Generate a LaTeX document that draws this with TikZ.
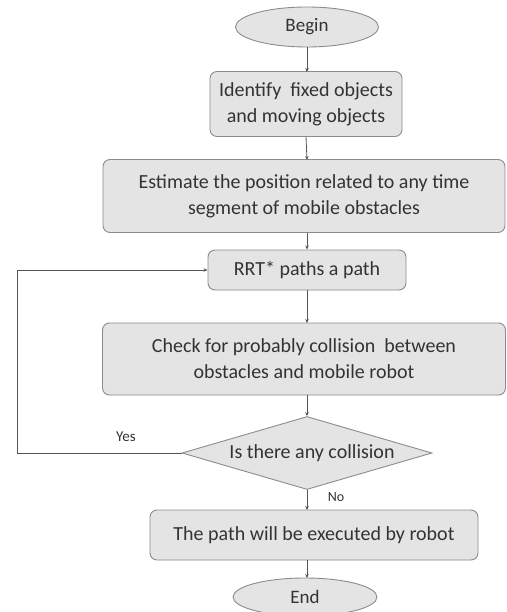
\documentclass[tikz,border=0pt]{standalone}
\usepackage{fontspec}
\setmainfont{Carlito}
\usetikzlibrary{shapes.geometric,arrows.meta}
\definecolor{boxfill}{HTML}{E4E4E4}
\definecolor{boxline}{HTML}{8C8C8C}
\definecolor{linecol}{HTML}{555555}
\tikzset{
  x=1pt,y=-1pt,
  stepbox/.style={draw=boxline,fill=boxfill,rounded corners=7pt,line width=0.9pt,align=center,inner sep=0pt,font=\fontsize{20}{26}\selectfont,text=black!80},
  term/.style={ellipse,draw=boxline,fill=boxfill,line width=0.9pt,inner sep=0pt,font=\fontsize{19}{22}\selectfont,text=black!80},
  decis/.style={diamond,aspect=3.4,draw=boxline,fill=boxfill,line width=0.9pt,inner sep=0pt,font=\fontsize{20}{24}\selectfont,text=black!80},
  conn/.style={draw=linecol,line width=0.8pt,-{Stealth[length=4pt,width=3.5pt]}},
  lbl/.style={font=\fontsize{15}{18}\selectfont,text=black!80}
}
\begin{document}
\begin{tikzpicture}
\useasboundingbox[fill=white] (0,0) rectangle (506,612);
\node[term,minimum width=143pt,minimum height=40pt] (begin) at (307,27) {Begin};
\node[stepbox,minimum width=192pt,minimum height=65pt] (ident) at (306,104) {Identify\ \ fixed objects\\and moving objects};
\node[stepbox,minimum width=402pt,minimum height=73pt] (est) at (304,196) {Estimate the position related to any time\\segment of mobile obstacles};
\node[stepbox,minimum width=198pt,minimum height=40pt] (rrt) at (307,270) {RRT* paths a path};
\node[stepbox,minimum width=403pt,minimum height=72pt] (check) at (304,359) {Check for probably collision\ \ between\\obstacles and mobile robot};
\node[decis,minimum width=250pt,minimum height=73pt] (dec) at (307,453) {};
\node[font=\fontsize{20}{24}\selectfont,text=black!80] (dectext) at (312,453) {Is there any collision};
\node[stepbox,minimum width=328pt,minimum height=50pt] (exec) at (314,535) {The path will be executed by robot};
\node[term,minimum width=144pt,minimum height=38pt] (end) at (305,597) {End};
\coordinate (lb) at (17,453);
\coordinate (lt) at (17,270);
\draw[conn] (begin.south) -- (307,72);
\draw[conn] (ident.south) -- (307,160);
\draw[conn] (307,233) -- (rrt.north);
\draw[conn] (rrt.south) -- (307,323);
\draw[conn] (307,395) -- (dec.north);
\draw[conn] (dec.south) -- (307,510);
\draw[conn] (307,560) -- (307,578);
\draw[draw=linecol,line width=0.8pt] (dec.west) -- (lb) -- (lt);
\draw[conn] (lt) -- (rrt.west);
\node[lbl] (yes) at (126,437) {Yes};
\node[lbl,font=\fontsize{14}{16}\selectfont] (no) at (336,497) {No};
\end{tikzpicture}
\end{document}
